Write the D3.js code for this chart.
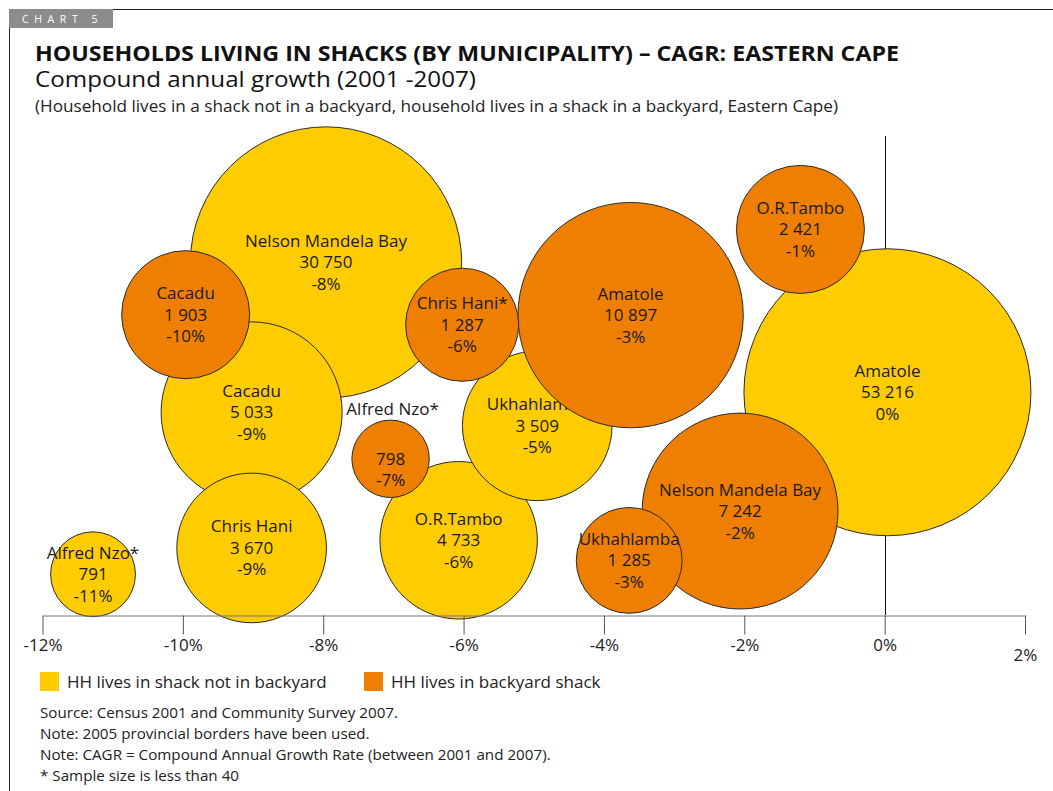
<!DOCTYPE html>
<html>
<head>
<meta charset="utf-8">
<script src="https://cdn.jsdelivr.net/npm/d3@7"></script>
<style>
    body { margin: 0; background: #fff; }
    svg { display: block; font-family: "Open Sans", "Noto Sans", sans-serif; }
</style>
</head>
<body>
<script>
'use strict';

// HH lives in shack not in backyard (yellow)
const yardNames = ["Amatole", "Nelson Mandela Bay", "Cacadu", "O.R.Tambo", "Chris Hani", "Ukhahlamba", "Alfred Nzo*"];
const yardHouseholds = [53216, 30750, 5033, 4733, 3670, 3509, 791];
const yardCagr = [0.04, -7.96, -9.02, -6.07, -9.02, -4.95, -11.28];   // bubble x (%)
const yardCagrText = ["0%", "-8%", "-9%", "-6%", "-9%", "-5%", "-11%"];
const yardY = [4.65, 7.36, 4.23, 1.56, 1.40, 3.95, 0.85];               // bubble y (no axis shown)
const yardSize = [206, 184, 82, 62, 56, 56, 18];                       // bubble size

// HH lives in backyard shack (orange)
const backNames = ["Amatole", "Nelson Mandela Bay", "Cacadu", "O.R.Tambo", "Chris Hani*", "Ukhahlamba", "Alfred Nzo*"];
const backHouseholds = [10897, 7242, 1903, 2421, 1287, 1285, 798];
const backCagr = [-3.62, -2.06, -9.96, -1.20, -6.02, -3.64, -7.04];
const backCagrText = ["-3%", "-2%", "-10%", "-1%", "-6%", "-3%", "-7%"];
const backY = [6.26, 2.17, 6.27, 8.05, 6.06, 1.14, 3.26];
const backSize = [127, 96, 41, 41, 32, 28, 15];

const xTicks = [-12, -10, -8, -6, -4, -2, 0, 2];

const seriesNames = ["HH lives in shack not in backyard", "HH lives in backyard shack"];
const seriesColors = ["#FFCC00", "#EE7F00"];

const notes = [
    "Source: Census 2001 and Community Survey 2007.",
    "Note: 2005 provincial borders have been used.",
    "Note: CAGR = Compound Annual Growth Rate (between 2001 and 2007).",
    "* Sample size is less than 40"
];

(function () {

    let svg = "";
    const width = 1053, height = 791;
    const axisY = 615;
    const fmt = d3.formatLocale({ decimal: ".", thousands: " ", grouping: [3], currency: ["", ""] }).format(",");

    window.onload = function () {
        svg = d3.select('body')
            .append('svg')
            .attr('width', width)
            .attr('height', height);

        drawFrame();
        makeTitles();

        let scales = drawAxes();

        // yellow series first, orange on top of it
        plotSeries(scales, makeRows(yardNames, yardHouseholds, yardCagr, yardCagrText, yardY, yardSize), seriesColors[0], false);
        plotSeries(scales, makeRows(backNames, backHouseholds, backCagr, backCagrText, backY, backSize), seriesColors[1], true);

        drawXAxis(scales);
        makeLegend();
        makeNotes();
    }

    // zip the arrays of one series into rows
    function makeRows(names, hh, cagr, cagrText, y, size) {
        return names.map((n, i) => ({
            name: n, hh: hh[i], x: cagr[i], label: cagrText[i], y: y[i], size: size[i]
        })).sort((a, b) => b.size - a.size); // big bubbles drawn first
    }

    // grey "CHART 5" tab and page frame
    function drawFrame() {
        svg.append('rect')
            .attr('x', 9).attr('y', 9)
            .attr('width', 104).attr('height', 19)
            .attr('fill', '#8c8c8c');

        svg.append('text')
            .attr('x', 22).attr('y', 23)
            .attr('fill', '#fff')
            .style('font-size', '10.5px')
            .style('letter-spacing', '5.6px')
            .text('CHART 5');

        svg.append('line')
            .attr('x1', 113).attr('x2', width)
            .attr('y1', 9.5).attr('y2', 9.5)
            .attr('stroke', '#222');

        svg.append('line')
            .attr('x1', 9.5).attr('x2', 9.5)
            .attr('y1', 28).attr('y2', height)
            .attr('stroke', '#222');
    }

    function makeTitles() {
        svg.append('text')
            .attr('x', 35).attr('y', 61)
            .attr('textLength', 864)
            .attr('lengthAdjust', 'spacingAndGlyphs')
            .style('font-size', '21px')
            .style('font-weight', 'bold')
            .attr('fill', '#111')
            .text('HOUSEHOLDS LIVING IN SHACKS (BY MUNICIPALITY) \u2013 CAGR: EASTERN CAPE');

        svg.append('text')
            .attr('x', 35).attr('y', 87)
            .attr('textLength', 441)
            .attr('lengthAdjust', 'spacingAndGlyphs')
            .style('font-size', '21px')
            .attr('fill', '#111')
            .text('Compound annual growth (2001 -2007)');

        svg.append('text')
            .attr('x', 35).attr('y', 112)
            .attr('textLength', 803)
            .attr('lengthAdjust', 'spacingAndGlyphs')
            .style('font-size', '16px')
            .attr('fill', '#222')
            .text('(Household lives in a shack not in a backyard, household lives in a shack in a backyard, Eastern Cape)');
    }

    // scales + the vertical line at 0%
    function drawAxes() {
        let xScale = d3.scaleLinear()
            .domain([-12, 2])
            .range([42.5, 1025]);

        let yScale = d3.scaleLinear()
            .domain([0, 10])
            .range([axisY, 136]);

        let rScale = d3.scaleSqrt()
            .domain([0, 206])
            .range([0, 143.5]);

        svg.append('line')
            .attr('x1', Math.round(xScale(0)) + 0.5).attr('x2', Math.round(xScale(0)) + 0.5)
            .attr('y1', yScale(10)).attr('y2', yScale(0))
            .attr('stroke', '#111');

        return { x: xScale, y: yScale, r: rScale };
    }

    function drawXAxis(s) {
        let xAxis = d3.axisBottom(s.x)
            .tickValues(xTicks)
            .tickSize(19)
            .tickSizeOuter(0)
            .tickPadding(4)
            .tickFormat((d) => d + '%');

        let g = svg.append('g')
            .attr('transform', 'translate(0,' + (axisY + 0.5) + ')')
            .call(xAxis);

        g.select('.domain').attr('stroke', '#777');
        g.selectAll('.tick line').attr('stroke', '#555');
        g.selectAll('.tick text')
            .attr('fill', '#222')
            .style('font-size', '17px')
            .style('font-family', '"Open Sans", "Noto Sans", sans-serif');

        // the last label sits a bit lower in the original
        g.selectAll('.tick text')
            .filter((d) => d === 2)
            .attr('dy', '1.3em');
    }

    // bubbles + their labels for one series
    function plotSeries(s, rows, color, isBack) {
        let g = svg.append('g');

        g.selectAll('circle')
            .data(rows)
            .enter()
            .append('circle')
            .attr('cx', (d) => s.x(d.x))
            .attr('cy', (d) => s.y(d.y))
            .attr('r', (d) => s.r(d.size))
            .attr('fill', color)
            .attr('stroke', '#2a2a2a')
            .attr('stroke-width', 1);

        let lineH = 21.5;

        rows.forEach((d) => {
            let cx = s.x(d.x), cy = s.y(d.y);
            let lbl = g.append('text')
                .attr('text-anchor', 'middle')
                .attr('fill', '#1a1a1a')
                .style('font-size', '17px');

            // Alfred Nzo* (backyard) has its name above the bubble
            if (isBack && d.name === "Alfred Nzo*") {
                g.append('text')
                    .attr('x', cx + 2)
                    .attr('y', s.y(d.y) - s.r(d.size) - 11)
                    .attr('dy', '0.35em')
                    .attr('text-anchor', 'middle')
                    .attr('fill', '#1a1a1a')
                    .style('font-size', '17px')
                    .text(d.name);
            } else {
                lbl.append('tspan').attr('x', cx).attr('y', cy - lineH).attr('dy', '0.35em').text(d.name);
            }
            lbl.append('tspan').attr('x', cx).attr('y', cy).attr('dy', '0.35em').text(fmt(d.hh));
            lbl.append('tspan').attr('x', cx).attr('y', cy + lineH).attr('dy', '0.35em').text(d.label);
        });
    }

    function makeLegend() {
        let xs = [40, 364];
        let lg = svg.selectAll('.legend')
            .data(seriesNames)
            .enter()
            .append('g')
            .attr('class', 'legend')
            .attr('transform', (d, i) => 'translate(' + xs[i] + ',672)');

        lg.append('rect')
            .attr('width', 19).attr('height', 19)
            .attr('fill', (d, i) => seriesColors[i]);

        lg.append('text')
            .attr('x', 27).attr('y', 10)
            .attr('dy', '0.35em')
            .attr('fill', '#222')
            .style('font-size', '17px')
            .text((d) => d);
    }

    function makeNotes() {
        svg.selectAll('.note')
            .data(notes)
            .enter()
            .append('text')
            .attr('class', 'note')
            .attr('x', 40)
            .attr('y', (d, i) => 718 + i * 21)
            .attr('fill', '#222')
            .style('font-size', '15.2px')
            .text((d) => d);
    }

})();
</script>
</body>
</html>
